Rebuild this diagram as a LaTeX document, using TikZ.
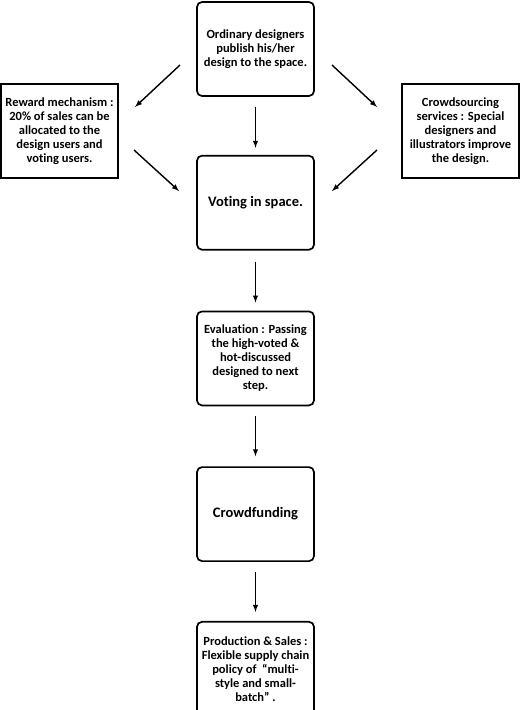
\documentclass[tikz,border=0pt]{standalone}
\usepackage{fontspec}
\setmainfont{Carlito}[Ligatures=NoCommon]
\usetikzlibrary{positioning}
\usetikzlibrary{shapes, arrows}

\begin{document}
\begin{tikzpicture}[auto, x=1pt, y=-1pt, node distance=58pt]
    \tikzstyle{rblock}=[draw, shape=rectangle, rounded corners=5pt, line width=1.7pt,
    minimum width=117pt, minimum height=94pt, inner sep=1pt, align=center,
    font=\bfseries\fontsize{12.5}{14}\selectfont];
    \tikzstyle{block}=[draw, rectangle, line width=1.4pt,
    minimum width=117pt, minimum height=94pt, inner sep=1pt, align=center,
    font=\bfseries\fontsize{12.5}{14}\selectfont];
    \tikzstyle{big}=[font=\bfseries\fontsize{14.5}{16}\selectfont];
    \tikzstyle{line}=[-latex, line width=1.4pt];
    \useasboundingbox (0,0) rectangle (520,710);
    \node [rblock] (publish) at (255.5,49) {Ordinary designers\\publish his/her\\design to the space.};
    \node [rblock,big,below=of publish] (vote) {Voting in space.};
    \node [rblock,below=60pt of vote] (eval) {Evaluation : Passing\\the high-voted \&\\hot-discussed\\designed to next\\step.};
    \node [rblock,big,below=60pt of eval] (fund) {Crowdfunding};
    \node [rblock,below=59pt of fund] (prod) {Production \& Sales :\\Flexible supply chain\\policy of ~“multi-\\style and small-\\batch”~.};
    \node [block] (reward) at (59.5,131) {Reward mechanism :\\20\% of sales can be\\allocated to the\\design users and\\voting users.};
    \node [block] (crowd) at (460.5,131) {Crowdsourcing\\services : Special\\designers and\\illustrators improve\\the design.};
    % free ends of the slanted arrows
    \coordinate (pl) at (180,65);
    \coordinate (rl) at (135,107);
    \coordinate (pr) at (332,65);
    \coordinate (cr) at (377,107);
    \coordinate (rv) at (134,150);
    \coordinate (vl) at (179,191);
    \coordinate (cv) at (377,150);
    \coordinate (vr) at (332,191);
    \draw[line] (pl) -- (rl);
    \draw[line] (pr) -- (cr);
    \draw[line] (rv) -- (vl);
    \draw[line] (cv) -- (vr);
    \draw[line, shorten <=10pt, shorten >=7pt] (publish) -- (vote);
    \draw[line, shorten <=11pt, shorten >=8pt] (vote) -- (eval);
    \draw[line, shorten <=10pt, shorten >=10pt] (eval) -- (fund);
    \draw[line, shorten <=10pt, shorten >=9pt] (fund) -- (prod);
\end{tikzpicture}
\end{document}
